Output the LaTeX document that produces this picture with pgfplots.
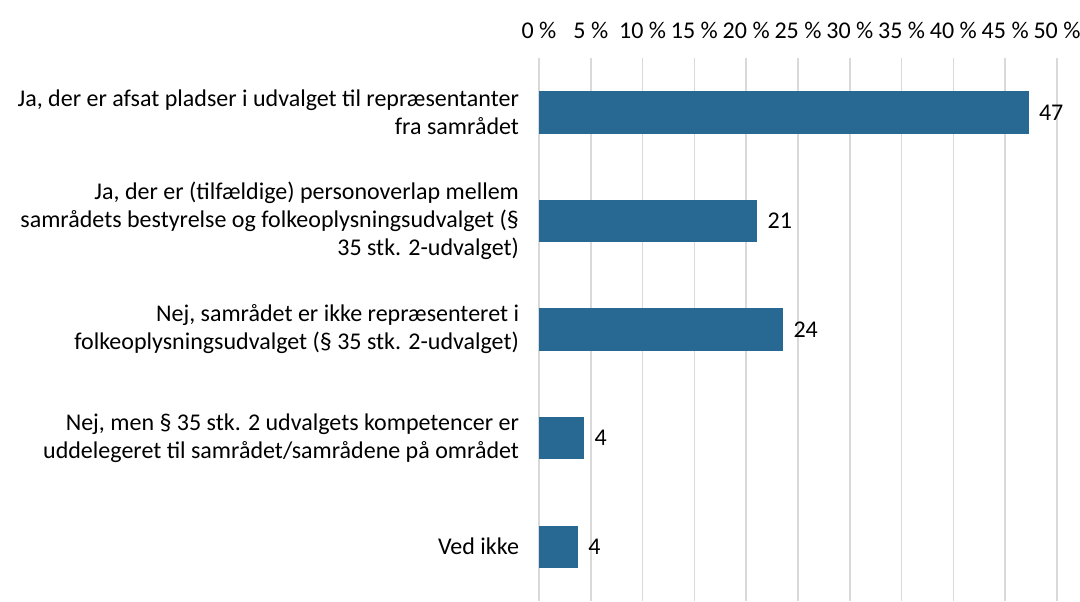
\documentclass[border=0pt]{standalone}
\usepackage{fontspec}
\setmainfont{Carlito}
\usepackage{pgfplots}
\pgfplotsset{compat=1.18}
\definecolor{barblue}{RGB}{39,105,146}
\definecolor{gridgray}{RGB}{217,217,217}
\newcommand{\lblfont}{\fontsize{12pt}{14pt}\selectfont}

\begin{document}
\begin{tikzpicture}
\useasboundingbox (0,0) rectangle (540pt,300.5pt);
\begin{axis}[
    at={(269.5pt,0pt)}, anchor=south west,
    width=259pt, height=271.5pt, scale only axis,
    xbar,
    xmin=0, xmax=50,
    ymin=-0.5, ymax=4.5, y dir=reverse,
    bar width=0.38,
    axis line style={draw=none},
    xticklabel pos=top,
    xtick={0,5,...,50},
    xticklabel={\pgfmathprintnumber{\tick}~\%},
    /pgf/number format/assume math mode=true,
    xticklabel style={font=\lblfont, yshift=6pt},
    ytick={0,1,2,3,4},
    yticklabels={
      {Ja, der er afsat pladser i udvalget til repræsentanter\\fra samrådet},
      {Ja, der er (tilfældige) personoverlap mellem\\samrådets bestyrelse og folkeoplysningsudvalget (§\\35 stk. 2-udvalget)},
      {Nej, samrådet er ikke repræsenteret i\\folkeoplysningsudvalget (§ 35 stk. 2-udvalget)},
      {Nej, men § 35 stk. 2 udvalgets kompetencer er\\uddelegeret til samrådet/samrådene på området},
      {Ved ikke}},
    yticklabel style={font=\lblfont, align=right, xshift=-6.5pt},
    major tick length=0pt,
    xmajorgrids,
    grid style={gridgray, line width=0.8pt},
    point meta=explicit symbolic,
    nodes near coords,
    nodes near coords align={horizontal},
    nodes near coords style={font=\lblfont, anchor=west, xshift=2pt},
]
\addplot[fill=barblue, draw=barblue] coordinates {
    (47.2,0) [47]
    (21.0,1) [21]
    (23.5,2) [24]
    (4.3,3)  [4]
    (3.7,4)  [4]
};
\end{axis}
\end{tikzpicture}
\end{document}
